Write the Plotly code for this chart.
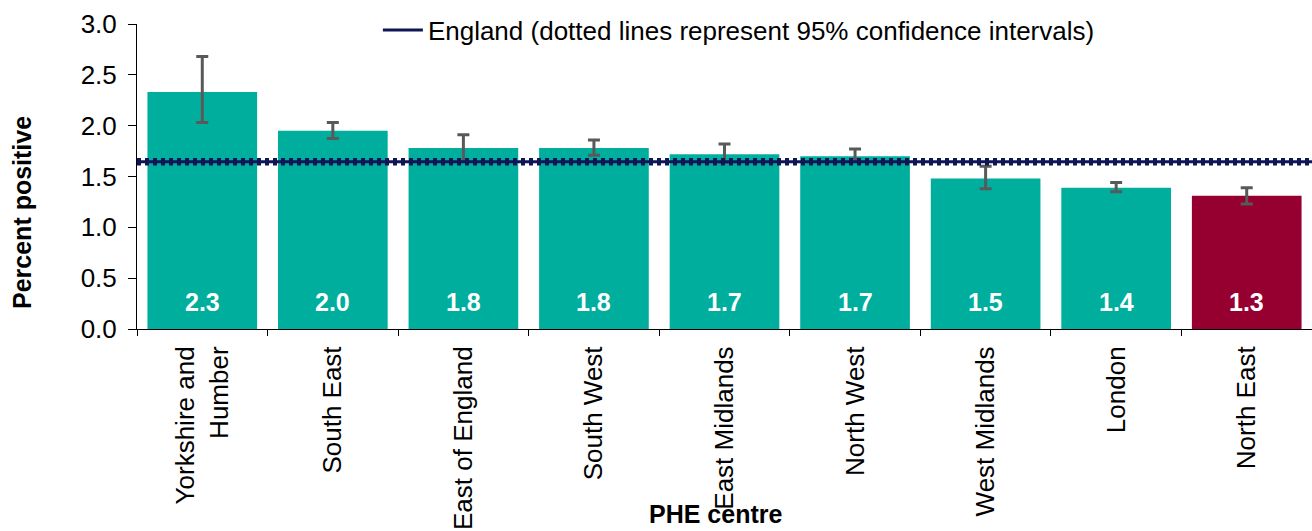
import plotly.graph_objects as go

categories = ["Yorkshire and<br>Humber", "South East", "East of England", "South West",
              "East Midlands", "North West", "West Midlands", "London", "North East"]
values = [2.33, 1.95, 1.78, 1.78, 1.72, 1.70, 1.48, 1.39, 1.31]
ci_upper = [2.68, 2.03, 1.91, 1.86, 1.82, 1.77, 1.60, 1.44, 1.39]
ci_lower = [2.03, 1.875, 1.65, 1.71, 1.64, 1.67, 1.38, 1.35, 1.23]
bar_colors = ["#00AE9E"] * 8 + ["#960030"]
england_value = 1.645
england_ci = [1.628, 1.662]
value_labels = ["2.3", "2.0", "1.8", "1.8", "1.7", "1.7", "1.5", "1.4", "1.3"]

font = "Liberation Sans, Arial, sans-serif"
FS = 26

fig = go.Figure()
fig.add_trace(go.Bar(
    x=categories, y=values, marker=dict(color=bar_colors, line=dict(width=0)),
    error_y=dict(type="data", symmetric=False,
                 array=[u - v for u, v in zip(ci_upper, values)],
                 arrayminus=[v - l for v, l in zip(values, ci_lower)],
                 color="#595959", thickness=3, width=6),
    showlegend=False, hoverinfo="skip",
))

# England line (solid) with dotted CI lines
fig.add_trace(go.Scatter(
    x=[-0.5, len(categories) - 0.5], y=[england_value] * 2, xaxis="x2",
    mode="lines", line=dict(color="#0E1655", width=3),
    name="England (dotted lines represent 95% confidence intervals)", showlegend=True,
))
for c in england_ci:
    fig.add_trace(go.Scatter(
        x=[-0.5, len(categories) - 0.5], y=[c] * 2, xaxis="x2",
        mode="lines", line=dict(color="#0E1655", width=4, dash="dot"),
        showlegend=False, hoverinfo="skip",
    ))

for cat, lab in zip(categories, value_labels):
    fig.add_annotation(x=cat, y=0.265, text="<b>%s</b>" % lab, showarrow=False,
                       font=dict(family=font, size=25, color="white"))

fig.add_annotation(xref="paper", yref="paper", x=(715 - 137) / 1175, y=-(514 - 329) / 305,
                   text="<b>PHE centre</b>",
                   showarrow=False, font=dict(family=font, size=25, color="black"),
                   xanchor="center", yanchor="middle")
fig.add_annotation(xref="paper", yref="paper", x=(22 - 137) / 1175, y=(329 - 213) / 305,
                   text="<b>Percent positive</b>", textangle=-90,
                   showarrow=False, font=dict(family=font, size=25, color="black"),
                   xanchor="center", yanchor="middle")

fig.update_layout(
    width=1312, height=531,
    margin=dict(l=137, r=0, t=24, b=202, autoexpand=False),
    paper_bgcolor="white", plot_bgcolor="white",
    font=dict(family=font, size=FS, color="black"),
    bargap=0.16,
    showlegend=True,
    legend=dict(x=0.205, y=(329 - 30) / 305, xanchor="left", yanchor="middle", orientation="h",
                bgcolor="rgba(0,0,0,0)", font=dict(family=font, size=FS, color="black"),
                itemwidth=40),
    xaxis=dict(showline=True, linecolor="black", linewidth=1, ticks="outside",
               tickson="boundaries", ticklen=6, tickcolor="black", tickangle=-90,
               ticklabelstandoff=6,
               tickfont=dict(family=font, size=FS), showgrid=False),
    xaxis2=dict(overlaying="x", range=[-0.5, len(categories) - 0.5], visible=False),
    yaxis=dict(range=[0, 3.0], dtick=0.5, tickformat=".1f", showline=True,
               linecolor="black", linewidth=1, ticks="outside", ticklen=8,
               tickcolor="black", showgrid=False, zeroline=False,
               ticklabelstandoff=6,
               tickfont=dict(family=font, size=FS)),
)

fig.write_html("out.html")
